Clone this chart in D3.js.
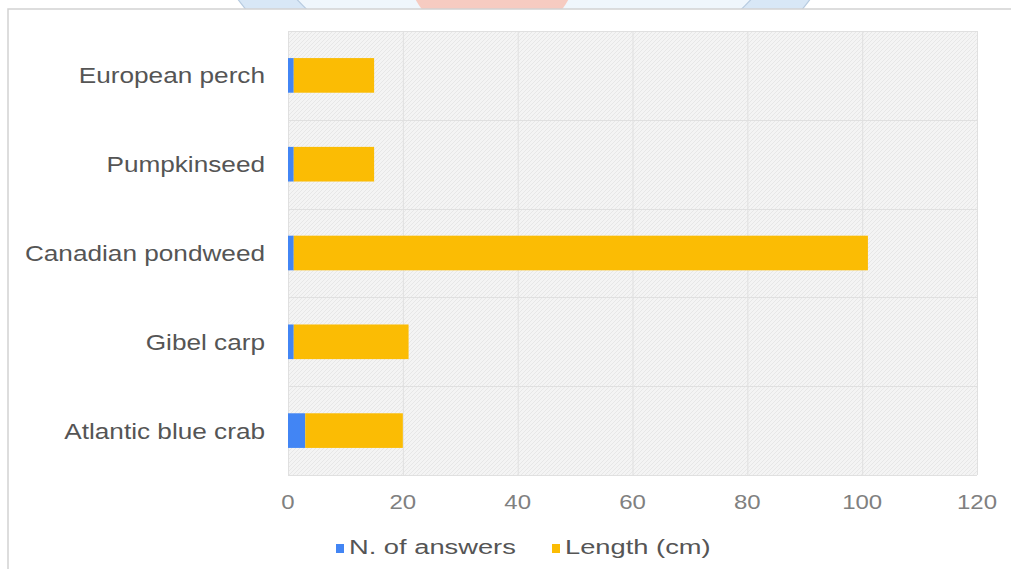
<!DOCTYPE html>
<html>
<head>
<meta charset="utf-8">
<script src="https://cdn.jsdelivr.net/npm/d3@7"></script>
<style>
  html, body { margin: 0; padding: 0; background: #fff; }
  svg { display: block; font-family: "Liberation Sans", Arial, sans-serif; }
</style>
</head>
<body>
<svg id="chart"></svg>
<script>
  // DATA
  const categories = ["European perch", "Pumpkinseed", "Canadian pondweed", "Gibel carp", "Atlantic blue crab"];
  const answers = [1, 1, 1, 1, 3];
  const lengths = [14, 14, 100, 20, 17];
  const seriesNames = ["N. of answers", "Length (cm)"];
  const seriesColors = ["#4285F4", "#FBBC04"];
  const xTicks = [0, 20, 40, 60, 80, 100, 120];

  const width = 1011;
  const height = 569;
  const margin = { top: 31, right: 34, bottom: 94, left: 288 };

  const svg = d3.select("#chart").attr("width", width).attr("height", height);

  // background logo peeking above the card
  const deco = svg.append("g");
  deco.append("clipPath").attr("id", "topclip")
    .append("rect").attr("x", 0).attr("y", 0).attr("width", width).attr("height", 10);
  const dg = deco.append("g").attr("clip-path", "url(#topclip)");
  dg.append("circle").attr("cx", 524).attr("cy", -216).attr("r", 358)
    .attr("fill", "#d8e7f6").attr("stroke", "#b7cbe0").attr("stroke-width", 1.2);
  dg.append("circle").attr("cx", 524).attr("cy", -216).attr("r", 313)
    .attr("fill", "#eff6fc").attr("stroke", "#b7cbe0").attr("stroke-width", 1.2);
  dg.append("circle").attr("cx", 492).attr("cy", -44).attr("r", 88)
    .attr("fill", "#f6cbc1");

  // card
  svg.append("rect")
    .attr("x", 8).attr("y", 9)
    .attr("width", width + 20).attr("height", height + 20)
    .attr("fill", "#fff")
    .attr("stroke", "#d2d2d2")
    .attr("stroke-width", 1.5);

  // hatch pattern for plot area
  const defs = svg.append("defs");
  const pat = defs.append("pattern")
    .attr("id", "hatch")
    .attr("patternUnits", "userSpaceOnUse")
    .attr("width", 4).attr("height", 4);
  pat.append("rect").attr("width", 4).attr("height", 4).attr("fill", "#f4f4f4");
  pat.append("path").attr("d", "M0,4 L4,0 M-1,1 L1,-1 M3,5 L5,3")
    .attr("stroke", "#e7e7e7").attr("stroke-width", 1);

  const x = d3.scaleLinear()
    .domain([0, 120])
    .range([margin.left, width - margin.right]);

  const y = d3.scaleBand()
    .domain(categories)
    .range([margin.top, height - margin.bottom])
    .paddingInner(0.61)
    .paddingOuter(0.305);

  // plot background
  svg.append("rect")
    .attr("x", x(0)).attr("y", margin.top)
    .attr("width", x(120) - x(0))
    .attr("height", height - margin.bottom - margin.top)
    .attr("fill", "url(#hatch)");

  // grid
  const grid = svg.append("g").attr("stroke", "#e0e0e0").attr("stroke-width", 1);
  grid.selectAll("line.v")
    .data(xTicks)
    .enter()
    .append("line")
    .attr("x1", (d) => x(d) + 0.5).attr("x2", (d) => x(d) + 0.5)
    .attr("y1", margin.top).attr("y2", height - margin.bottom);
  const rowEdges = categories.map((c) => y(c) - y.step() * y.paddingInner() / 2)
    .concat([height - margin.bottom]);
  rowEdges[0] = margin.top;
  grid.selectAll("line.h")
    .data(rowEdges)
    .enter()
    .append("line")
    .attr("x1", x(0)).attr("x2", x(120))
    .attr("y1", (d) => Math.round(d) + 0.5).attr("y2", (d) => Math.round(d) + 0.5);

  // stacked bars
  const table = categories.map((c, i) => ({ name: c, answers: answers[i], length: lengths[i] }));
  const stack = d3.stack().keys(["answers", "length"]);
  const layers = stack(table);

  svg.append("g")
    .selectAll("g")
    .data(layers)
    .enter()
    .append("g")
    .attr("fill", (d, i) => seriesColors[i])
    .selectAll("rect")
    .data((d) => d)
    .enter()
    .append("rect")
    .attr("x", (d) => x(d[0]))
    .attr("width", (d) => x(d[1]) - x(d[0]))
    .attr("y", (d) => y(d.data.name))
    .attr("height", y.bandwidth());

  // category labels
  svg.append("g")
    .selectAll("text")
    .data(categories)
    .enter()
    .append("text")
    .attr("transform", (d) => `translate(${x(0) - 23},${y(d) + y.bandwidth() / 2 + 8}) scale(1.19,1)`)
    .attr("text-anchor", "end")
    .attr("font-size", 22)
    .attr("fill", "#555")
    .text((d) => d);

  // x tick labels
  svg.append("g")
    .selectAll("text")
    .data(xTicks)
    .enter()
    .append("text")
    .attr("transform", (d) => `translate(${x(d)},509) scale(1.2,1)`)
    .attr("text-anchor", "middle")
    .attr("font-size", 20)
    .attr("fill", "#808080")
    .text((d) => d);

  // legend
  const legendX = [336, 552];
  const legend = svg.append("g")
    .selectAll("g")
    .data(seriesNames)
    .enter()
    .append("g")
    .attr("transform", (d, i) => `translate(${legendX[i]},554)`);
  legend.append("rect")
    .attr("x", 0).attr("y", -10)
    .attr("width", 8).attr("height", 9)
    .attr("fill", (d, i) => seriesColors[i]);
  legend.append("text")
    .attr("transform", "translate(13,0) scale(1.3,1)")
    .attr("font-size", 21)
    .attr("fill", "#555")
    .text((d) => d);
</script>
</body>
</html>
